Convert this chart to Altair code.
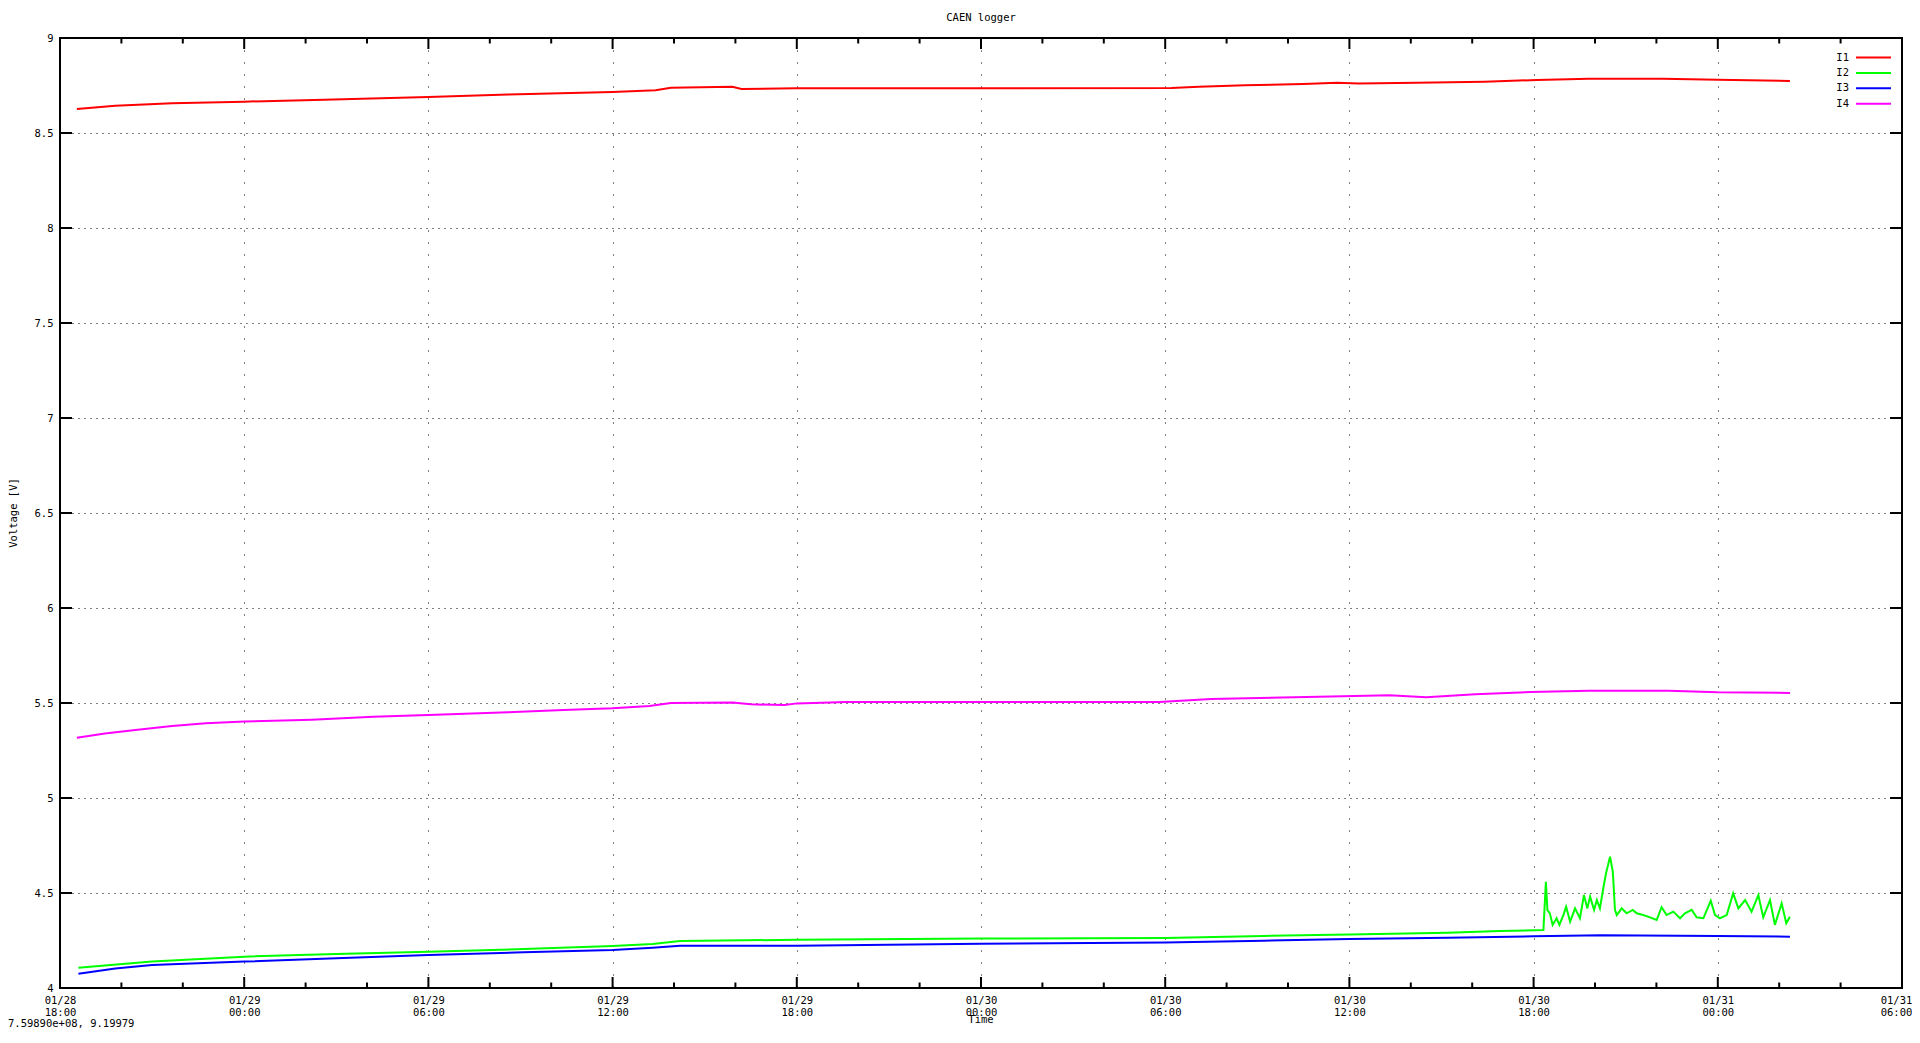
import altair as alt
import pandas as pd

FONT = "DejaVu Sans Mono"
FS = 10.5
TITLE = "CAEN logger"
Y_TITLE = "Voltage [V]"
X_TITLE = "Time"
FOOTER = "7.59890e+08,  9.19979"

START = pd.Timestamp("2024-01-28T18:00:00Z")
END = pd.Timestamp("2024-01-31T06:00:00Z")

names = ["I1", "I2", "I3", "I4"]
colors = ["#ff0000", "#00ff00", "#0000ff", "#ff00ff"]

# hours after 01/28 18:00 and voltages
i1_hours = [0.55, 1.8, 3.65, 6.0, 8.6, 12.0, 14.6, 18.0, 19.4, 19.9, 21.9, 22.2, 24.0, 28.7, 36.2,
            37.1, 38.6, 40.5, 41.6, 42.3, 44.2, 46.4, 48.1, 49.8, 52.2, 54.0, 56.35]
i1_volts = [8.626, 8.644, 8.656, 8.665, 8.675, 8.689, 8.702, 8.716, 8.725, 8.738, 8.743, 8.732, 8.735, 8.735, 8.737,
            8.743, 8.751, 8.758, 8.765, 8.760, 8.765, 8.770, 8.779, 8.786, 8.786, 8.780, 8.774]

i2_hours = [0.6, 3.0, 6.0, 9.0, 12.0, 15.1, 18.0, 19.3, 20.2, 24.0, 30.0, 36.0, 39.2, 42.0, 45.2,
            46.9, 48.32, 48.40, 48.45, 48.53, 48.62, 48.75, 48.84, 48.97, 49.06, 49.19, 49.35, 49.51, 49.64, 49.75,
            49.84, 49.97, 50.06, 50.16, 50.27, 50.36, 50.49, 50.58, 50.65, 50.71, 50.87, 51.03, 51.23, 51.36, 51.57,
            51.79, 52.01, 52.17, 52.33, 52.55, 52.77, 52.93, 53.15, 53.31, 53.53, 53.77, 53.91, 54.07, 54.29, 54.50,
            54.67, 54.89, 55.10, 55.32, 55.48, 55.70, 55.86, 56.08, 56.23, 56.35]
i2_volts = [4.107, 4.139, 4.165, 4.179, 4.191, 4.205, 4.221, 4.232, 4.247, 4.254, 4.260, 4.263, 4.274, 4.281, 4.291,
            4.300, 4.305, 4.559, 4.410, 4.393, 4.332, 4.367, 4.332, 4.384, 4.428, 4.349, 4.419, 4.367, 4.489, 4.419,
            4.481, 4.411, 4.463, 4.419, 4.525, 4.604, 4.691, 4.612, 4.411, 4.384, 4.419, 4.393, 4.411, 4.393, 4.384,
            4.372, 4.358, 4.425, 4.384, 4.402, 4.367, 4.393, 4.411, 4.372, 4.367, 4.459, 4.384, 4.367, 4.384, 4.498,
            4.419, 4.463, 4.402, 4.489, 4.372, 4.463, 4.332, 4.446, 4.341, 4.375]

i3_hours = [0.6, 1.8, 3.0, 6.0, 9.0, 12.0, 15.1, 18.0, 19.3, 20.2, 24.0, 30.0, 36.0, 39.2, 42.0,
            45.2, 48.0, 50.2, 54.0, 56.35]
i3_volts = [4.075, 4.103, 4.121, 4.139, 4.156, 4.174, 4.188, 4.200, 4.212, 4.223, 4.223, 4.233, 4.239, 4.249, 4.258,
            4.265, 4.272, 4.278, 4.274, 4.270]

i4_hours = [0.55, 1.46, 2.38, 3.65, 4.75, 6.0, 8.2, 10.2, 12.0, 14.6, 16.4, 18.0, 19.2, 19.9, 21.9,
            22.5, 23.6, 24.0, 25.6, 35.8, 37.5, 41.0, 43.3, 44.5, 46.1, 47.9, 49.8, 52.4, 54.0, 56.35]
i4_volts = [5.317, 5.340, 5.356, 5.379, 5.393, 5.402, 5.412, 5.428, 5.437, 5.451, 5.463, 5.472, 5.484, 5.500, 5.502,
            5.493, 5.489, 5.498, 5.505, 5.505, 5.521, 5.533, 5.541, 5.530, 5.546, 5.558, 5.565, 5.565, 5.556, 5.553]

y_ticks = [4.0, 4.5, 5.0, 5.5, 6.0, 6.5, 7.0, 7.5, 8.0, 8.5, 9.0]
x_major_hours = [0, 6, 12, 18, 24, 30, 36, 42, 48, 54, 60]
x_minor_hours = [2, 4, 8, 10, 14, 16, 20, 22, 26, 28, 32, 34, 38, 40, 44, 46, 50, 52, 56, 58]

W, H = 1842, 950
start_ms = START.value // 10**6
end_ms = END.value // 10**6


def to_ms(hours):
    return [start_ms + h * 3600000 for h in hours]


rows = []
for name, hs, vs in [("I1", i1_hours, i1_volts), ("I2", i2_hours, i2_volts),
                     ("I3", i3_hours, i3_volts), ("I4", i4_hours, i4_volts)]:
    for t, v in zip(to_ms(hs), vs):
        rows.append({"series": name, "t": t, "v": v})
df = pd.DataFrame(rows)

xscale = alt.Scale(type="utc", domain=[start_ms, end_ms], nice=False)
yscale = alt.Scale(domain=[4, 9], nice=False, zero=False)
cscale = alt.Scale(domain=names, range=colors)

xaxis = alt.Axis(
    values=to_ms(x_major_hours),
    labelExpr="[utcFormat(datum.value, '%m/%d'), utcFormat(datum.value, '%H:%M')]",
    labelLineHeight=12.5, labelPadding=7, labelBaseline="top",
    labelOffset={"condition": {"test": f"datum.value >= {end_ms}", "value": -6}, "value": 0},
    tickSize=0, domain=False, grid=True, gridDash=[1, 11], gridColor="black",
    gridWidth=1, gridOpacity=1, labelFont=FONT, labelFontSize=FS, labelColor="black",
    labelOverlap=False, labelBound=False, labelFlush=False, title=None,
)
yaxis = alt.Axis(
    values=y_ticks, format="~g", tickSize=0, domain=False, grid=True, gridDash=[1, 5],
    gridColor="black", gridWidth=1, gridOpacity=1, labelPadding=7, labelFont=FONT,
    labelFontSize=FS, labelColor="black", title=None,
)

lines = alt.Chart(df).mark_line(strokeWidth=2, clip=True).encode(
    x=alt.X("t:T", scale=xscale, axis=xaxis),
    y=alt.Y("v:Q", scale=yscale, axis=yaxis),
    color=alt.Color("series:N", scale=cscale, legend=None),
)

xmaj = pd.DataFrame({"t": to_ms(x_major_hours)})
xmin = pd.DataFrame({"t": to_ms(x_minor_hours)})
ytk = pd.DataFrame({"v": y_ticks})


def xtick(data, y0, y1):
    return alt.Chart(data).mark_rule(color="black", strokeWidth=2).encode(
        x=alt.X("t:T", scale=xscale, axis=xaxis), y=alt.value(y0), y2=alt.value(y1))


def ytick(x0, x1):
    return alt.Chart(ytk).mark_rule(color="black", strokeWidth=2).encode(
        y=alt.Y("v:Q", scale=yscale, axis=yaxis), x=alt.value(x0), x2=alt.value(x1))


def label(text, x, y, **kw):
    return alt.Chart(pd.DataFrame({"s": [text]})).mark_text(
        font=FONT, fontSize=FS, color="black", **kw).encode(
        text="s:N", x=alt.value(x), y=alt.value(y))


# legend rows: label on the left, line sample on the right (gnuplot style)
legend_rows_y = [19.5, 34.9, 50.3, 65.7]
legend_layers = []
for name, col, ly in zip(names, colors, legend_rows_y):
    legend_layers.append(
        alt.Chart(pd.DataFrame({"series": [name]})).mark_rule(strokeWidth=2, color=col).encode(
            x=alt.value(1796), x2=alt.value(1831), y=alt.value(ly)))
    legend_layers.append(
        alt.Chart(pd.DataFrame({"series": [name]})).mark_text(
            font=FONT, fontSize=FS, color="black", align="right").encode(
            x=alt.value(1789), y=alt.value(ly), text="series:N"))

chart = alt.layer(
    lines,
    xtick(xmaj, H, H - 11), xtick(xmaj, 0, 11),
    xtick(xmin, H, H - 5.5), xtick(xmin, 0, 5.5),
    ytick(0, 12), ytick(W, W - 12),
    label(TITLE, W / 2, -20),
    label(X_TITLE, W / 2, 982),
    label(Y_TITLE, -46, H / 2, angle=270),
    label(FOOTER, -52, 986, align="left"),
    *legend_layers,
).properties(
    width=W, height=H,
    padding={"left": 52, "top": 30, "right": 10, "bottom": 43},
    autosize=alt.AutoSizeParams(type="none"),
).configure_view(stroke="black", strokeWidth=2)

chart.save("out.html", embed_options={"renderer": "svg", "actions": False})
